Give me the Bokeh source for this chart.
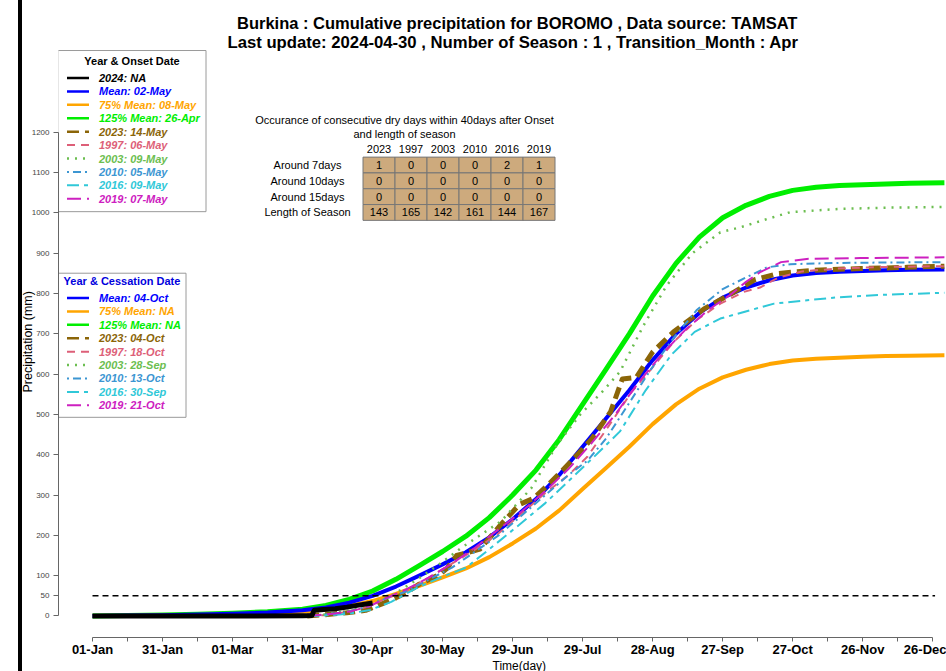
from bokeh.plotting import figure
from bokeh.models import Range1d, FixedTicker, Label, Title
from bokeh.embed import file_html
from bokeh.resources import INLINE
from bokeh.core.properties import value

FONT = "Liberation Sans"

# ---------------- data ----------------
tick_days = [1, 31, 61, 91, 121, 151, 181, 211, 241, 271, 301, 331, 361]
tick_labels = ["01-Jan", "31-Jan", "01-Mar", "31-Mar", "30-Apr", "30-May", "29-Jun",
               "29-Jul", "28-Aug", "27-Sep", "27-Oct", "26-Nov", "26-Dec"]
minor_days = [16, 46, 76, 106, 136, 166, 196, 226, 256, 286, 316, 346]
y_ticks = [0, 50, 100, 200, 300, 400, 500, 600, 700, 800, 900, 1000, 1100, 1200]

days_clim = [1, 16, 31, 46, 61, 76, 91, 101, 111, 121, 131, 141, 151, 161, 171, 181, 191,
             201, 211, 221, 231, 241, 251, 261, 271, 281, 291, 301, 311, 321, 331, 341, 351, 366]
mean_mm = [0, 1, 2, 3.5, 5.5, 8.5, 14, 21, 33, 50, 73, 100, 128, 158, 195, 240, 290,
           350, 420, 490, 560, 635, 700, 752, 790, 815, 833, 845, 851, 854, 856, 858, 859, 860]
p125_mm = [0, 1, 2.5, 4.5, 7, 10.5, 17, 26, 41, 62, 91, 125, 160, 198, 244, 300, 362,
           438, 525, 612, 700, 794, 875, 940, 988, 1019, 1041, 1056, 1064, 1068, 1070, 1072, 1074, 1075]
p75_mm = [0, 0.8, 1.5, 2.6, 4.1, 6.4, 10.5, 16, 25, 37, 55, 75, 96, 118, 146, 180, 217,
          262, 315, 367, 420, 476, 525, 564, 592, 611, 625, 634, 638, 641, 643, 645, 646, 647]

d2024 = [1, 31, 61, 91, 95, 96, 100, 105, 110, 115, 121]
v2024 = [0, 0, 0, 0.5, 1, 14, 16, 18, 22, 27, 32]

d2023 = [93, 100, 110, 118, 125, 131, 136, 141, 150, 153, 157, 167, 176, 184, 190, 197, 206,
         215, 223, 228, 234, 241, 250, 263, 276, 285, 295, 310, 330, 350, 366]
v2023 = [0, 3, 8, 14, 30, 45, 60, 79, 104, 119, 150, 166, 227, 277, 292, 330, 383,
         440, 507, 588, 592, 655, 705, 762, 804, 835, 850, 858, 862, 865, 868]
d1997 = [93, 100, 110, 120, 126, 135, 145, 155, 165, 175, 185, 195, 205, 213, 222, 232,
         240, 250, 260, 270, 280, 287, 295, 305, 320, 340, 366]
v1997 = [0, 2, 10, 25, 42, 60, 95, 130, 165, 205, 255, 305, 350, 395, 470, 556,
         610, 680, 735, 775, 804, 815, 840, 855, 862, 866, 868]
d2003 = [93, 100, 110, 120, 129, 140, 150, 159, 167, 176, 189, 200, 210, 220, 227, 237,
         247, 258, 270, 279, 290, 300, 321, 340, 366]
v2003 = [0, 3, 12, 30, 50, 90, 130, 169, 200, 235, 317, 425, 500, 560, 606, 720,
         820, 900, 952, 965, 985, 1002, 1010, 1013, 1015]
d2010 = [93, 100, 110, 120, 125, 135, 145, 155, 165, 175, 185, 195, 205, 213, 221, 230,
         240, 250, 260, 271, 281, 290, 300, 320, 340, 366]
v2010 = [0, 3, 10, 25, 40, 60, 90, 120, 160, 200, 250, 300, 350, 385, 440, 520,
         610, 690, 760, 811, 840, 865, 873, 876, 877, 878]
d2016 = [93, 100, 110, 120, 129, 140, 150, 161, 170, 184, 195, 205, 215, 227, 238, 249,
         259, 270, 283, 293, 310, 321, 340, 366]
v2016 = [0, 1, 5, 15, 35, 70, 95, 120, 161, 227, 280, 335, 390, 458, 560, 648,
         705, 738, 759, 775, 785, 791, 797, 802]
d2019 = [93, 97, 105, 112, 120, 127, 135, 145, 155, 165, 175, 185, 195, 205, 215, 225,
         235, 245, 255, 265, 275, 281, 287, 296, 307, 330, 366]
v2019 = [0, 2, 6, 12, 25, 45, 65, 95, 130, 170, 215, 260, 310, 365, 430, 500,
         580, 650, 710, 760, 800, 829, 853, 878, 886, 888, 890]

threshold_mm = 50
threshold_days = [1, 362]

onset_labels = ["2024: NA", "Mean: 02-May", "75% Mean: 08-May", "125% Mean: 26-Apr",
                "2023: 14-May", "1997: 06-May", "2003: 09-May", "2010: 05-May",
                "2016: 09-May", "2019: 07-May"]
cessation_labels = ["Mean: 04-Oct", "75% Mean: NA", "125% Mean: NA", "2023: 04-Oct",
                    "1997: 18-Oct", "2003: 28-Sep", "2010: 13-Oct", "2016: 30-Sep",
                    "2019: 21-Oct"]

table_years = ["2023", "1997", "2003", "2010", "2016", "2019"]
table_rows = ["Around 7days", "Around 10days", "Around 15days", "Length of Season"]
table_values = [[1, 0, 0, 0, 2, 1],
                [0, 0, 0, 0, 0, 0],
                [0, 0, 0, 0, 0, 0],
                [143, 165, 142, 161, 144, 167]]

# ---------------- styles ----------------
STY = {
    "2024": dict(color="#000000", width=5, dash="solid", lw=2.5),
    "mean": dict(color="#0000FF", width=4, dash="solid", lw=2.5),
    "p75": dict(color="#FFA500", width=4, dash="solid", lw=2.5),
    "p125": dict(color="#00EE00", width=5, dash="solid", lw=2.5),
    "2023": dict(color="#8B6508", width=5, dash="12 6", lw=2.5),
    "1997": dict(color="#DD5F78", width=2, dash="8 6", lw=2),
    "2003": dict(color="#6CBE50", width=2.5, dash="2 6", lw=2.5),
    "2010": dict(color="#3C96D2", width=2, dash="2 4 8 4", lw=2),
    "2016": dict(color="#30C8D8", width=2, dash="12 5 4 5", lw=2),
    "2019": dict(color="#CD20C0", width=2, dash="14 6", lw=2),
}

# ---------------- geometry (page pixels -> data) ----------------
PX_DAY = 2.334
PX_MM = 0.4027
PAGE_W, PAGE_H = 946, 671
FL, FR, FT, FB = 58.0, 946.0, 14.0, 636.5   # frame edges on page
X_START = 1 - (92.0 - FL) / PX_DAY
X_END = X_START + (FR - FL) / PX_DAY
Y_START = -(FB - 615.0) / PX_MM
Y_END = Y_START + (FB - FT) / PX_MM


def dx(px):
    return X_START + (px - FL) / PX_DAY


def dy(py):
    return Y_START + (FB - py) / PX_MM


p = figure(width=PAGE_W, height=PAGE_H, x_range=Range1d(X_START, X_END),
           y_range=Range1d(Y_START, Y_END), output_backend="svg", toolbar_location=None,
           min_border_left=int(FL), min_border_right=0,
           min_border_top=int(FT), min_border_bottom=int(PAGE_H - FB))
p.title.text = ""
p.title.visible = False
p.outline_line_color = None
p.xgrid.visible = False
p.ygrid.visible = False
p.background_fill_color = "white"
p.border_fill_alpha = 0
# black vertical rule at the far left of the page
p.styles = {"background": "linear-gradient(to right, #ffffff 0px, #ffffff 18px, #000000 18px, "
                          "#000000 22px, #ffffff 22px, #ffffff 100%)"}

# x axis
p.xaxis.ticker = FixedTicker(ticks=tick_days, minor_ticks=minor_days)
p.xaxis.major_label_overrides = {d: l for d, l in zip(tick_days, tick_labels)}
p.xaxis.bounds = (tick_days[0], tick_days[-1])
p.xaxis.major_tick_in = 0
p.xaxis.major_tick_out = 4
p.xaxis.minor_tick_in = 0
p.xaxis.minor_tick_out = 4
p.xaxis.axis_line_color = "#666666"
p.xaxis.major_tick_line_color = "#666666"
p.xaxis.minor_tick_line_color = "#666666"
p.xaxis.major_label_text_font = FONT
p.xaxis.major_label_text_font_size = "13px"
p.xaxis.major_label_text_font_style = "bold"
p.xaxis.major_label_text_color = "black"
p.xaxis.major_label_standoff = 0

# y axis
p.yaxis.ticker = FixedTicker(ticks=y_ticks, minor_ticks=[])
p.yaxis.bounds = (y_ticks[0], y_ticks[-1])
p.yaxis.major_tick_in = 0
p.yaxis.major_tick_out = 5
p.yaxis.minor_tick_out = 0
p.yaxis.minor_tick_in = 0
p.yaxis.axis_line_color = "#666666"
p.yaxis.major_tick_line_color = "#666666"
p.yaxis.major_label_text_font = FONT
p.yaxis.major_label_text_font_size = "8px"
p.yaxis.major_label_text_color = "#444444"
p.yaxis.major_label_standoff = 4

# axis titles placed as side titles so that they can be offset like the original
p.add_layout(Title(text="Precipitation (mm)", align="left", offset=245, standoff=-12,
                   vertical_align="bottom",
                   text_font=FONT, text_font_size="12.5px", text_font_style="normal",
                   text_color="black"), "left")
p.add_layout(Title(text="Time(day)", align="left", offset=434, standoff=-4,
                   vertical_align="middle",
                   text_font=FONT, text_font_size="12px", text_font_style="normal",
                   text_color="black"), "below")

# ---------------- curves ----------------
def draw(key, xs, ys):
    s = STY[key]
    p.line(xs, ys, line_color=s["color"], line_width=s["width"], line_dash=s["dash"],
           line_cap="butt", line_join="round")

draw("p125", days_clim, p125_mm)
draw("p75", days_clim, p75_mm)
draw("mean", days_clim, mean_mm)
draw("2023", d2023, v2023)
draw("1997", d1997, v1997)
draw("2003", d2003, v2003)
draw("2010", d2010, v2010)
draw("2016", d2016, v2016)
draw("2019", d2019, v2019)
draw("2024", d2024, v2024)

p.line(threshold_days, [threshold_mm, threshold_mm], line_color="black", line_width=1.5,
       line_dash="6 4")

# ---------------- legends ----------------
def legend_box(left, top, right, bottom):
    p.quad(left=dx(left), right=dx(right), top=dy(top), bottom=dy(bottom),
           fill_color="white", line_color="#9a9a9a", line_width=1)


def legend(keys, labels, title, title_color, box, title_xy, y0):
    legend_box(*box)
    p.text(x=[dx(title_xy[0])], y=[dy(title_xy[1])], text=[title],
           text_font=value(FONT), text_font_size="11px", text_font_style="bold",
           text_color=title_color, text_align="center", text_baseline="middle")
    for i, (k, lab) in enumerate(zip(keys, labels)):
        s = STY[k]
        yy = dy(y0 + 13.4 * i)
        p.segment(x0=[dx(66.5)], y0=[yy], x1=[dx(88.5)], y1=[yy], line_color=s["color"],
                  line_width=s["lw"], line_dash=s["dash"])
        p.text(x=[dx(98.5)], y=[yy], text=[lab], text_font=value(FONT),
               text_font_size="11px", text_font_style="bold italic",
               text_color=s["color"], text_align="left", text_baseline="middle")


legend(["2024", "mean", "p75", "p125", "2023", "1997", "2003", "2010", "2016", "2019"],
       onset_labels, "Year & Onset Date", "black", (57.5, 50, 205.5, 211), (131.5, 60.5), 77.5)
legend(["mean", "p75", "p125", "2023", "1997", "2003", "2010", "2016", "2019"],
       cessation_labels, "Year & Cessation Date", "#0000DD", (57.5, 272.5, 185.5, 416.5),
       (121.5, 280.5), 297.3)

# ---------------- table ----------------
T_LEFT, T_TOP, CW, RH = 362.5, 156.5, 32.0, 15.8
p.text(x=[dx(404), dx(404)], y=[dy(119.5), dy(133.5)],
       text=["Occurance of consecutive dry days within 40days after Onset",
             "and length of season"],
       text_font=value(FONT), text_font_size="11px", text_color="black",
       text_align="center", text_baseline="middle")
for j, yr in enumerate(table_years):
    p.text(x=[dx(T_LEFT + CW * (j + 0.5))], y=[dy(148)], text=[yr], text_font=value(FONT),
           text_font_size="11px", text_color="black", text_align="center",
           text_baseline="middle")
for i, rl in enumerate(table_rows):
    cy = T_TOP + RH * (i + 0.5)
    p.text(x=[dx(307)], y=[dy(cy)], text=[rl], text_font=value(FONT),
           text_font_size="11px", text_color="black", text_align="center",
           text_baseline="middle")
    for j in range(len(table_years)):
        l = T_LEFT + CW * j
        p.quad(left=dx(l), right=dx(l + CW), top=dy(T_TOP + RH * i),
               bottom=dy(T_TOP + RH * (i + 1)), fill_color="#CDAA7D",
               line_color="#777777", line_width=1)
        p.text(x=[dx(l + CW / 2)], y=[dy(cy)], text=[str(table_values[i][j])],
               text_font=value(FONT), text_font_size="11px", text_color="black",
               text_align="center", text_baseline="middle")

# ---------------- main title ----------------
p.add_layout(Label(x=dx(519), y=dy(22), text="Burkina :  Cumulative precipitation for BOROMO , Data source: TAMSAT",
                   text_font=FONT, text_font_size="16.5px", text_font_style="bold",
                   text_align="center", text_baseline="middle", text_color="black"))
p.add_layout(Label(x=dx(519.5), y=dy(42), text="Last update:  2024-04-30 , Number of Season :  1 , Transition_Month :  Apr",
                   text_font=FONT, text_font_size="16.7px", text_font_style="bold",
                   text_align="center", text_baseline="middle", text_color="black"))

open("out.html", "w").write(file_html(p, INLINE))
